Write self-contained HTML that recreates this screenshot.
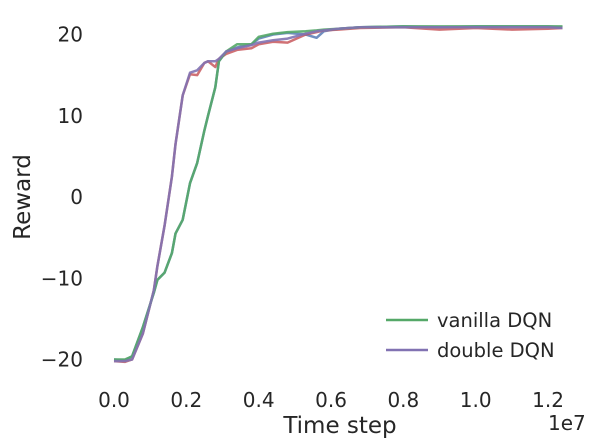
<!DOCTYPE html>
<html><head><meta charset="utf-8"><style>
body{margin:0;background:#fff;}
svg{display:block;font-family:"DejaVu Sans","Liberation Sans",sans-serif;}
</style></head><body>
<svg id="chart" width="598" height="447" viewBox="0 0 598 447" xmlns="http://www.w3.org/2000/svg">
<g id="yt"></g>
<g id="xt"></g>
<g id="series"></g>
<text x="548" y="430" font-size="20" fill="#262626">1e7</text>
<text x="340" y="433" font-size="23" fill="#262626" text-anchor="middle">Time step</text>
<text transform="translate(30,197) rotate(-90)" font-size="23" fill="#262626" text-anchor="middle">Reward</text>
<g>
<line x1="386" y1="320" x2="428" y2="320" stroke="#55a868" stroke-width="2.5"/>
<text x="437" y="327" font-size="19.5" fill="#262626">vanilla DQN</text>
<line x1="386" y1="350" x2="428" y2="350" stroke="#8172b2" stroke-width="2.5"/>
<text x="437" y="357" font-size="19.5" fill="#262626">double DQN</text>
</g>
</svg>
<script>
const steps=[0,0.03,0.05,0.08,0.11,0.12,0.14,0.16,0.17,0.19,0.21,0.23,0.25,0.26,0.28,0.29,0.31,0.34,0.38,0.40,0.44,0.48,0.53,0.56,0.58,0.62,0.68,0.8,0.9,1.0,1.1,1.2,1.24];
const vanilla=[-20,-20,-19.6,-16,-11.8,-10.2,-9.3,-6.9,-4.5,-2.8,1.7,4.2,8.2,10,13.5,16.7,17.9,18.8,18.8,19.7,20.1,20.3,20.4,20.5,20.6,20.7,20.9,21,21,21,21,21,21];
const vanillaRaw=[-20,-20.1,-19.6,-16,-11.8,-10.2,-9.3,-6.9,-4.5,-2.8,1.7,4.2,8.2,10,13.5,16.7,17.9,18.4,18.8,19.5,20.0,20.2,20.0,19.6,20.4,20.7,20.9,21,20.9,21,21,21,20.9];
const double=[-20.2,-20.2,-20.0,-16.8,-11.5,-8.5,-3.5,2.5,6.5,12.5,15.3,15.6,16.5,16.7,16.7,17,17.9,18.3,18.7,19,19.3,19.5,20.1,20.4,20.5,20.7,20.9,20.9,20.9,20.9,20.9,20.9,20.8];
const doubleRaw=[-20.2,-20.3,-20.0,-16.8,-11.5,-8.5,-3.5,2.5,6.5,12.5,15.1,15.0,16.5,16.7,16.0,17,17.6,18.1,18.3,18.8,19.1,19.0,20.0,20.3,20.5,20.6,20.8,20.9,20.6,20.8,20.6,20.7,20.8];
const yTicks=[-20,-10,0,10,20];
const yLabels=["\u221220","\u221210","0","10","20"];
const xTicks=[0,0.2,0.4,0.6,0.8,1.0,1.2];
const xLabels=["0.0","0.2","0.4","0.6","0.8","1.0","1.2"];
const X=v=>114+v*361.7, Y=r=>197-r*8.125;
const NS="http://www.w3.org/2000/svg";
const yt=document.getElementById('yt'),xt=document.getElementById('xt'),sg=document.getElementById('series');
yTicks.forEach((t,i)=>{const e=document.createElementNS(NS,'text');


e.setAttribute('x',83);e.setAttribute('y',Y(t)+7);e.setAttribute('text-anchor','end');e.setAttribute('font-size','20');e.setAttribute('fill','#262626');e.textContent=yLabels[i];yt.appendChild(e);});
xTicks.forEach((t,i)=>{const e=document.createElementNS(NS,'text');


e.setAttribute('x',X(t));e.setAttribute('y',407);e.setAttribute('text-anchor','middle');e.setAttribute('font-size','20');e.setAttribute('fill','#262626');e.textContent=xLabels[i];xt.appendChild(e);});
function line(vals,color,name,op){const p=document.createElementNS(NS,'path');


p.setAttribute('d',vals.map((v,i)=>(i?'L':'M')+X(steps[i]).toFixed(1)+','+Y(v).toFixed(1)).join(''));
p.setAttribute('fill','none');p.setAttribute('stroke',color);p.setAttribute('stroke-width','2.5');p.setAttribute('stroke-opacity',op);p.setAttribute('stroke-linejoin','round');sg.appendChild(p);}
line(vanillaRaw,'#4c72b0','vanilla-raw-line',0.8);
line(doubleRaw,'#c44e52','double-raw-line',0.8);
line(vanilla,'#55a868','vanilla-dqn-line',0.9);
line(double,'#8172b2','double-dqn-line',0.9);
</script>
</body></html>
